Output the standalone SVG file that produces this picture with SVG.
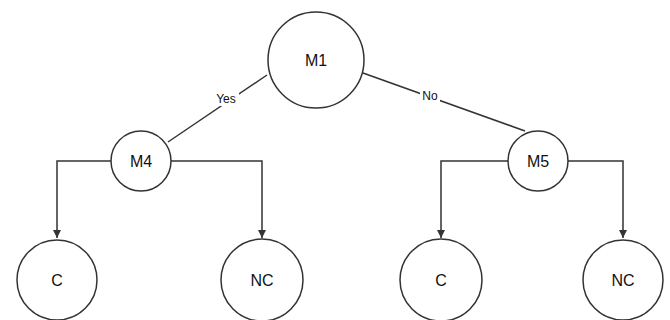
<svg xmlns="http://www.w3.org/2000/svg" width="670" height="320" viewBox="0 0 670 320">
  <style>
    .node { fill: #ffffff; stroke: #333333; stroke-width: 1.5; }
    .label { font-family: "Liberation Sans", Arial, sans-serif; font-size: 16px; fill: #111111; text-anchor: middle; }
    .edge { fill: none; stroke: #333333; stroke-width: 1.5; }
    .edge-label { font-family: "Liberation Sans", Arial, sans-serif; font-size: 12px; fill: #111111; text-anchor: middle; }
    .edge-label-bg { fill: #ffffff; }
  </style>
  <defs>
    <marker id="arrow" markerWidth="10" markerHeight="10" refX="8" refY="4" orient="auto" markerUnits="userSpaceOnUse">
      <path d="M0,0 L8,4 L0,8 Z" fill="#333333"/>
    </marker>
  </defs>
  <rect width="670" height="320" fill="#ffffff"/>

  <!-- connectors -->
  <g id="connectors">
    <line class="edge" x1="267" y1="75" x2="168" y2="142"/>
    <line class="edge" x1="363" y1="73" x2="525" y2="131"/>
    <rect class="edge-label-bg" x="213" y="91" width="26" height="15"/>
    <text class="edge-label" x="226" y="103">Yes</text>
    <rect class="edge-label-bg" x="420" y="88" width="20" height="14"/>
    <text class="edge-label" x="430" y="100">No</text>
    <path class="edge" d="M111,161 H57 V238" marker-end="url(#arrow)"/>
    <path class="edge" d="M171,161 H262 V238" marker-end="url(#arrow)"/>
    <path class="edge" d="M508,161 H441 V238" marker-end="url(#arrow)"/>
    <path class="edge" d="M568,161 H623 V238" marker-end="url(#arrow)"/>
  </g>

  <g id="m1">
    <circle class="node" cx="316" cy="60" r="48"/>
    <text class="label" x="316" y="66">M1</text>
  </g>
  <g id="m4">
    <circle class="node" cx="141" cy="161" r="30"/>
    <text class="label" x="141" y="167">M4</text>
  </g>
  <g id="m5">
    <circle class="node" cx="538" cy="161" r="30"/>
    <text class="label" x="538" y="167">M5</text>
  </g>
  <g id="c-left">
    <circle class="node" cx="57" cy="280" r="40"/>
    <text class="label" x="57" y="286">C</text>
  </g>
  <g id="nc-left">
    <circle class="node" cx="262" cy="280" r="41"/>
    <text class="label" x="262" y="286">NC</text>
  </g>
  <g id="c-right">
    <circle class="node" cx="441" cy="280" r="41"/>
    <text class="label" x="441" y="286">C</text>
  </g>
  <g id="nc-right">
    <circle class="node" cx="623" cy="280" r="40"/>
    <text class="label" x="623" y="286">NC</text>
  </g>
</svg>
